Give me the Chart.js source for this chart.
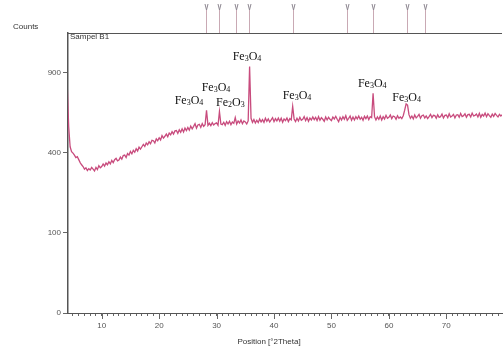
<!DOCTYPE html>
<html>
<head>
<meta charset="utf-8">
<script src="https://cdn.jsdelivr.net/npm/chart.js@4.4.1/dist/chart.umd.min.js"></script>
<style>
  html, body { margin: 0; padding: 0; background: #fff; }
  #xrd { display: block; }
</style>
</head>
<body>
<canvas id="xrd" width="503" height="347"></canvas>
<script>
// Diffractogram, sample B1: scan from 4.0 deg 2Theta in 0.25 deg steps
const scanStart = 4.0;
const scanStep = 0.25;
// counts, one row per degree (x.00, x.25, x.50, x.75)
const counts = [
  800, 540, 430, 405,   // 4
  398, 388, 376, 380,   // 5
  366, 352, 342, 334,   // 6
  322, 328, 316, 324,   // 7
  318, 330, 322, 314,   // 8
  330, 320, 338, 328,   // 9
  334, 346, 336, 350,   // 10
  342, 356, 346, 362,   // 11
  352, 366, 372, 360,   // 12
  364, 378, 368, 386,   // 13
  388, 376, 396, 388,   // 14
  406, 394, 412, 402,   // 15
  420, 408, 428, 418,   // 16
  430, 442, 432, 450,   // 17
  440, 456, 446, 464,   // 18
  462, 450, 472, 462,   // 19
  478, 466, 490, 476,   // 20
  486, 498, 484, 504,   // 21
  494, 512, 498, 516,   // 22
  518, 502, 522, 508,   // 23
  528, 510, 532, 518,   // 24
  536, 520, 544, 528,   // 25
  542, 558, 532, 550,   // 26
  554, 536, 558, 542,   // 27
  552, 640, 548, 560,   // 28
  546, 564, 550, 558,   // 29
  562, 548, 632, 556,   // 30
  552, 566, 548, 570,   // 31
  556, 572, 552, 568,   // 32
  560, 594, 556, 574,   // 33
  562, 580, 558, 574,   // 34
  568, 556, 574, 946,   // 35
  590, 566, 582, 562,   // 36
  578, 564, 586, 568,   // 37
  582, 566, 590, 572,   // 38
  586, 568, 580, 594,   // 39
  570, 588, 574, 592,   // 40
  572, 590, 566, 586,   // 41
  576, 592, 570, 588,   // 42
  580, 664, 586, 570,   // 43
  590, 574, 596, 578,   // 44
  584, 600, 576, 594,   // 45
  572, 592, 580, 598,   // 46
  582, 596, 576, 600,   // 47
  578, 594, 584, 572,   // 48
  598, 580, 596, 584,   // 49
  576, 598, 586, 602,   // 50
  584, 570, 596, 580,   // 51
  600, 584, 606, 578,   // 52
  590, 604, 578, 598,   // 53
  580, 600, 586, 604,   // 54
  584, 596, 578, 602,   // 55
  588, 604, 582, 600,   // 56
  594, 752, 600, 580,   // 57
  598, 584, 604, 580,   // 58
  600, 586, 608, 590,   // 59
  596, 610, 588, 604,   // 60
  600, 584, 606, 590,   // 61
  598, 588, 606, 640,   // 62
  680, 672, 612, 590,   // 63
  604, 586, 610, 592,   // 64
  602, 614, 590, 606,   // 65
  610, 592, 604, 588,   // 66
  600, 614, 594, 608,   // 67
  606, 590, 612, 596,   // 68
  600, 616, 592, 608,   // 69
  610, 594, 618, 598,   // 70
  604, 614, 592, 610,   // 71
  612, 596, 620, 600,   // 72
  606, 618, 596, 612,   // 73
  614, 598, 622, 604,   // 74
  608, 616, 598, 620,   // 75
  596, 614, 604, 622,   // 76
  600, 618, 606, 596,   // 77
  616, 602, 620, 608,   // 78
  598, 614, 604, 612    // 79
];

// reference pattern stick positions (top strip)
const refPositions = [28.1, 30.4, 33.35, 35.66, 43.3, 52.7, 57.3, 63.1, 66.3];

// phase labels
const phaseLabels = ['Fe3O4', 'Fe3O4', 'Fe2O3', 'Fe3O4', 'Fe3O4', 'Fe3O4', 'Fe3O4'];
const phaseAt = [25.2, 29.9, 32.4, 35.3, 44.0, 57.1, 63.1];
const phaseCounts = [707, 794, 696, 1024, 740, 822, 729];

const yTicks = [0, 100, 400, 900];

// square-root intensity axis
class SqrtScale extends Chart.Scale {
    constructor(cfg) {
        super(cfg);
        this._startValue = 0;
        this._valueRange = 1;
    }
    determineDataLimits() {
        this.min = this.options.min ?? 0;
        this.max = this.options.max ?? 1000;
    }
    buildTicks() {
        return yTicks.map(v => ({value: v}));
    }
    configure() {
        super.configure();
        this._startValue = Math.sqrt(this.min);
        this._valueRange = Math.sqrt(this.max) - this._startValue;
    }
    getLabelForValue(v) { return String(v); }
    getPixelForTick(i) { return this.getPixelForValue(this.ticks[i].value); }
    getPixelForValue(v) {
        return this.getPixelForDecimal((Math.sqrt(Math.max(0, v)) - this._startValue) / this._valueRange);
    }
    getValueForPixel(p) {
        const d = this.getDecimalForPixel(p);
        return Math.pow(this._startValue + d * this._valueRange, 2);
    }
}
SqrtScale.id = 'sqrt';
SqrtScale.defaults = {};
Chart.register(SqrtScale);

function drawFormula(ctx, text, cx, cy) {
    const big = '12px "Liberation Serif", "Times New Roman", serif';
    const small = '8px "Liberation Serif", "Times New Roman", serif';
    const parts = text.split('');
    let w = 0;
    parts.forEach(ch => {
        ctx.font = /\d/.test(ch) ? small : big;
        w += ctx.measureText(ch).width;
    });
    let x = cx - w / 2;
    ctx.textAlign = 'left';
    ctx.textBaseline = 'alphabetic';
    parts.forEach(ch => {
        const sub = /\d/.test(ch);
        ctx.font = sub ? small : big;
        ctx.fillText(ch, x, cy + (sub ? 5 : 4));
        x += ctx.measureText(ch).width;
    });
}

const decorations = {
    id: 'decorations',
    afterDraw(chart) {
        const ctx = chart.ctx;
        const xs = chart.scales.x;
        const ys = chart.scales.y;
        const area = chart.chartArea;
        ctx.save();

        // top frame line
        ctx.strokeStyle = '#555';
        ctx.lineWidth = 1;
        ctx.beginPath();
        ctx.moveTo(area.left, area.top + 0.5);
        ctx.lineTo(area.right, area.top + 0.5);
        ctx.stroke();

        // reference sticks
        refPositions.forEach(p => {
            const px = Math.round(xs.getPixelForValue(p)) + 0.5;
            ctx.strokeStyle = '#c9a9b4';
            ctx.beginPath();
            ctx.moveTo(px, area.top);
            ctx.lineTo(px, 9);
            ctx.stroke();
            ctx.strokeStyle = '#8d8790';
            ctx.beginPath();
            ctx.moveTo(px - 1.5, 4);
            ctx.lineTo(px, 10);
            ctx.lineTo(px + 1.5, 4);
            ctx.stroke();
        });

        // longer ticks at every 10 deg
        ctx.strokeStyle = '#666';
        xs.ticks.forEach(t => {
            if (Math.abs(t.value % 10) < 1e-6) {
                const px = Math.round(xs.getPixelForValue(t.value)) + 0.5;
                ctx.beginPath();
                ctx.moveTo(px, area.bottom);
                ctx.lineTo(px, area.bottom + 6);
                ctx.stroke();
            }
        });

        // phase labels
        ctx.fillStyle = '#111';
        phaseLabels.forEach((t, i) => {
            drawFormula(ctx, t, xs.getPixelForValue(phaseAt[i]), ys.getPixelForValue(phaseCounts[i]));
        });

        // small texts
        ctx.fillStyle = '#333';
        ctx.font = '8px "Liberation Sans", Arial, sans-serif';
        ctx.textBaseline = 'middle';
        ctx.textAlign = 'left';
        ctx.fillText('Counts', 13, 27);
        ctx.fillText('Sampel B1', area.left + 2, area.top + 4);
        ctx.textAlign = 'center';
        ctx.fillText('Position [°2Theta]', 269, 342);
        ctx.restore();
    }
};

new Chart(document.getElementById('xrd'), {
    type: 'line',
    data: {
        datasets: [{
            label: 'Sampel B1',
            data: counts.map((c, i) => ({x: scanStart + i * scanStep, y: c})),
            borderColor: '#c84b7d',
            borderWidth: 1.3,
            pointRadius: 0,
            tension: 0
        }]
    },
    options: {
        responsive: false,
        animation: false,
        layout: {padding: {top: 33, left: 0, right: 0, bottom: 0}},
        plugins: {
            legend: {display: false},
            tooltip: {enabled: false}
        },
        scales: {
            x: {
                type: 'linear',
                min: 4.13,
                max: 79.7,
                afterFit: s => { s.height = 34; },
                border: {display: true, color: '#555', width: 1},
                grid: {drawOnChartArea: false, tickLength: 3, color: '#666'},
                ticks: {
                    stepSize: 1,
                    includeBounds: false,
                    autoSkip: false,
                    maxRotation: 0,
                    padding: 5,
                    color: '#555',
                    font: {family: '"Liberation Sans", Arial, sans-serif', size: 8},
                    callback: v => (v % 10 === 0 ? String(v) : '')
                }
            },
            y: {
                type: 'sqrt',
                min: 0,
                max: 1220,
                afterFit: s => { s.width = 68; },
                border: {display: true, color: '#555', width: 1.5},
                grid: {drawOnChartArea: false, tickLength: 5, color: '#666'},
                ticks: {
                    padding: 2,
                    color: '#555',
                    font: {family: '"Liberation Sans", Arial, sans-serif', size: 8}
                }
            }
        }
    },
    plugins: [decorations]
});
</script>
</body>
</html>
